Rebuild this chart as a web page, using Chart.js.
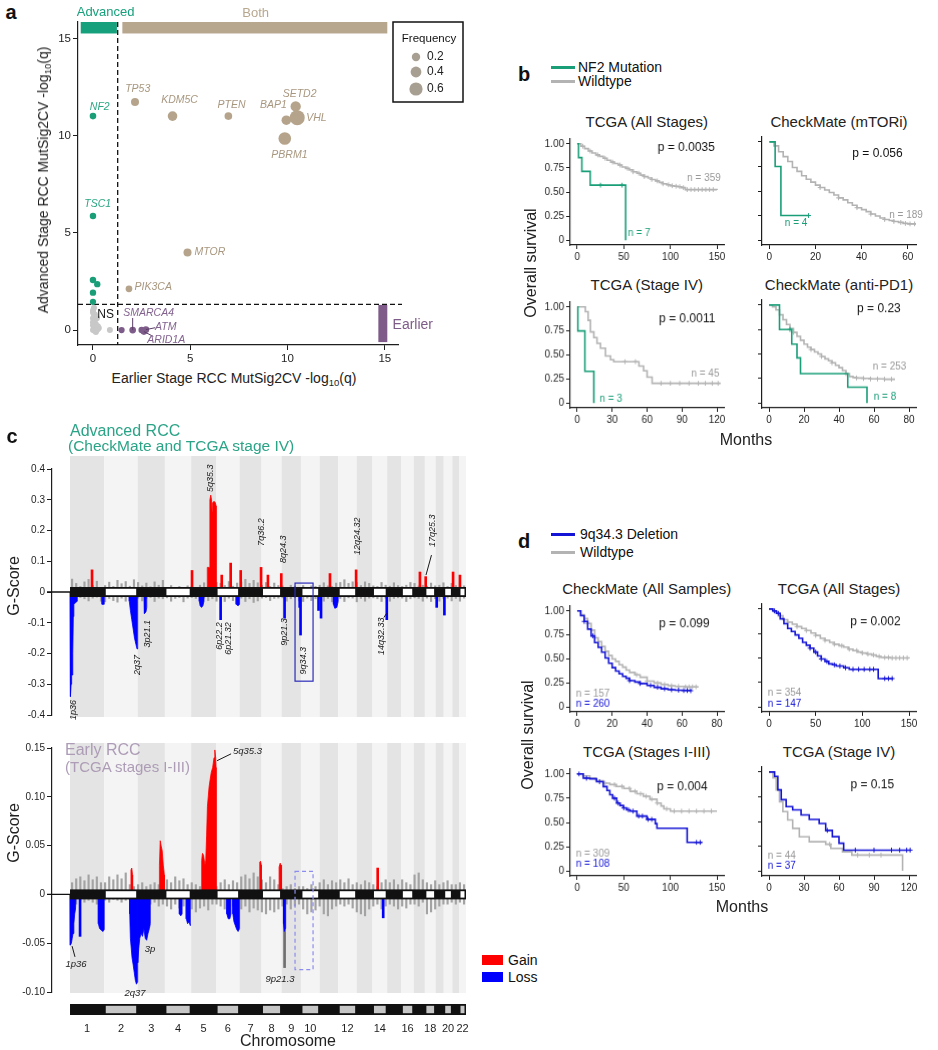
<!DOCTYPE html>
<html>
<head>
<meta charset="utf-8">
<title>RCC figure</title>
<script src="https://cdn.jsdelivr.net/npm/chart.js@4.4.1/dist/chart.umd.min.js"></script>
<style>
  html, body { margin: 0; padding: 0; background: #fff; }
  body { position: relative; width: 938px; height: 1050px; overflow: hidden;
         font-family: 'Liberation Sans', Arial, Helvetica, sans-serif; color: #222; }
  canvas { position: absolute; }
  .t { position: absolute; white-space: nowrap; line-height: 1; }
  .t sub { font-size: 0.68em; vertical-align: -0.35em; line-height: 0; }
  .key { position: absolute; }
</style>
</head>
<body>
<script>
/* ---------- colours ---------- */
const FONT = "'Liberation Sans', Arial, Helvetica, sans-serif";
const INK = '#1e1e1e';
const GREEN = '#1a9e78', TAN = '#b5a48b', PURPLE = '#7d5c89', NS_GRAY = '#c8c8c8';
const KM_GRAY = '#b3b3b3', KM_BLUE = '#1414d6';
const RED = '#ff0000', BLUE = '#0000ff', NOISE = '#a3a3a3';

/* ---------- panel a : MutSig2CV -log10(q) ---------- */
const advGenes  = ['NF2', 'TSC1', '', '', '', ''];
const advEarlyQ = [0, 0, 0, 0.22, 0, 0];
const advAdvQ   = [11.0, 5.86, 2.57, 2.36, 1.92, 1.45];
const advFreq   = [0.05, 0.04, 0.04, 0.03, 0.03, 0.02];

const bothGenes  = ['TP53', 'KDM5C', 'PTEN', 'BAP1', 'SETD2', 'VHL', 'PBRM1', 'MTOR', 'PIK3CA'];
const bothEarlyQ = [2.16, 4.09, 6.96, 9.94, 10.42, 10.5, 9.86, 4.86, 1.85];
const bothAdvQ   = [11.73, 11.0, 11.0, 10.79, 11.5, 10.92, 9.85, 3.99, 2.12];
const bothFreq   = [0.17, 0.3, 0.14, 0.3, 0.36, 0.75, 0.55, 0.17, 0.06];

const earlyGenes  = ['', 'SMARCA4', '', 'ATM', 'ARID1A'];
const earlyEarlyQ = [1.47, 2.04, 2.5, 2.72, 2.62];
const earlyAdvQ   = [0, 0, 0, 0.02, -0.08];
const earlyFreq   = [0.02, 0.06, 0.03, 0.05, 0.05];

const nsEarlyQ = [0, 0.05, 0.1, 0, 0.15, 0, 0.1, 0, 0.05, 0.2, 0.25, 0.15, 0.3, 0, 0.1, 0.2, 0.05, 0, 0.1, 0.25, 0.87];
const nsAdvQ   = [0, 0.1, 0.2, 0.4, 0.3, 0.6, 0.8, 1.0, 1.15, 0, 0.05, -0.1, 0.1, 0.25, 0.5, 0.6, 0.7, 0.9, -0.05, 0.2, 0];

const Q_CUT_EARLY = 1.27, Q_CUT_ADV = 1.32;
const freqLegend = [0.2, 0.4, 0.6];

/* ---------- panel c : GISTIC G-scores ---------- */
const chrLen = [249, 243, 198, 191, 181, 171, 159, 146, 141, 136, 135, 134, 115, 107, 103, 90, 81, 78, 59, 63, 48, 51];
const chrTickLabels = ['1', '2', '3', '4', '5', '6', '7', '8', '9', '10', '', '12', '', '14', '', '16', '', '18', '', '20', '', '22'];
const NOISE_STEP = 30; // Mb between background G-score samples

// [chr, Mb, G-score]  or  [chr, [[Mb, G-score], ...]]
const advGainSpikes = [[1, 160, 0.072], [5, 6, 0.07], [6, 41, 0.055], [6, 106, 0.094], [7, 8, 0.07], [7, 156, 0.08],
  [8, 47, 0.055], [8, 144, 0.06], [11, 75, 0.06], [12, 130, 0.072], [17, 45, 0.065], [18, 6, 0.05], [21, 5, 0.065], [22, 7, 0.055]];
const advGainBlocks = [
  [5, [[117, 0], [117, 0.08], [134, 0.08], [136, 0.3], [142, 0.315], [148, 0.3], [152, 0.26], [156, 0.29], [166, 0.295], [176, 0.29], [181, 0.28], [181, 0]]]
];
const advLossBlocks = [
  [1, [[0, 0], [1, -0.34], [5, -0.34], [8, -0.3], [12, -0.27], [16, -0.27], [20, -0.2], [24, -0.08], [28, -0.04], [40, -0.035], [52, -0.03], [53, 0]]],
  [1, [[233, 0], [233, -0.04], [249, -0.04], [249, 0]]],
  [2, [[182, 0], [182, -0.03], [190, -0.06], [200, -0.09], [210, -0.12], [220, -0.15], [230, -0.17], [238, -0.185], [243, -0.18], [243, 0]]],
  [3, [[46, 0], [46, -0.06], [52, -0.07], [60, -0.065], [66, -0.05], [66, 0]]],
  [5, [[59, 0], [59, -0.03], [65, -0.045], [75, -0.05], [85, -0.045], [93, -0.03], [93, 0]]],
  [6, [[146, 0], [146, -0.04], [160, -0.045], [171, -0.04], [171, 0]]],
  [11, [[100, 0], [100, -0.04], [110, -0.053], [125, -0.05], [135, -0.03], [135, 0]]]
];
const advLossSpikes = [[6, 33, -0.09], [9, 22, -0.085], [9, 132, -0.05], [9, 138, -0.14], [10, 128, -0.06],
  [11, 10, -0.085], [14, 104, -0.09], [19, 8, -0.05], [20, 5, -0.075]];
const advNoiseUp = [
  .042, .028, .018, .033, .041, .022, .035, .015, .021, .032, .018, .038, .027, .034, .019, .04,
  .031, .02, .029, .017, .033, .022, .038, .012, .021, .009, .018, .011, .02, .018, .01, .022,
  .03, .02, .02, .031, .028, .021, .034, .019, .029, .033, .041, .028, .038, .03, .022, .031,
  .018, .029, .021, .02, .012, .022, .019, .011, .021, .012, .02, .018, .022, .03, .02, .018,
  .029, .031, .04, .028, .033, .031, .021, .033, .028, .02, .018, .031, .022, .019, .03, .021,
  .018, .022, .031, .028, .02, .022, .019, .029, .02, .022, .03, .018, .028, .021, .03, .02
];
const advNoiseDn = [
  -.02, -.031, -.018, -.022, -.029, -.02, -.017, -.03, -.032, -.021, -.028, -.033, -.02, -.03, -.018, -.022,
  -.02, -.029, -.021, -.018, -.031, -.02, -.022, -.019, -.03, -.021, -.018, -.032, -.02, -.018, -.021, -.031,
  -.02, -.028, -.022, -.03, -.019, -.031, -.02, -.028, -.022, -.02, -.031, -.022, -.034, -.029, -.02, -.018,
  -.028, -.021, -.02, -.019, -.03, -.022, -.018, -.029, -.031, -.02, -.028, -.022, -.02, -.03, -.021, -.032,
  -.02, -.021, -.031, -.019, -.02, -.032, -.021, -.03, -.02, -.019, -.022, -.031, -.02, -.03, -.021, -.019,
  -.02, -.031, -.022, -.019, -.021, -.03, -.02, -.031, -.022, -.03, -.021, -.02, -.029, -.021, -.03, -.02
];

const earlyGainSpikes = [[14, 38, 0.027]];
const earlyGainBlocks = [
  [2, [[194, 0], [194, 0.025], [200, 0.027], [206, 0.02], [206, 0]]],
  [3, [[158, 0], [158, 0.03], [164, 0.055], [170, 0.05], [178, 0.045], [186, 0.03], [194, 0.02], [194, 0]]],
  [5, [[76, 0], [76, 0.035], [82, 0.042], [90, 0.04], [100, 0.03], [106, 0.035], [112, 0.06], [118, 0.09], [124, 0.1], [130, 0.11],
       [138, 0.118], [146, 0.125], [156, 0.13], [166, 0.14], [172, 0.148], [178, 0.14], [181, 0.13], [181, 0]]],
  [7, [[146, 0], [146, 0.033], [152, 0.034], [158, 0.03], [158, 0]]],
  [8, [[128, 0], [128, 0.028], [136, 0.032], [142, 0.03], [146, 0.02], [146, 0]]]
];
const earlyLossBlocks = [
  [1, [[0, 0], [0, -0.05], [4, -0.052], [10, -0.05], [16, -0.045], [22, -0.04], [28, -0.03], [34, -0.02], [40, -0.015], [44, 0]]],
  [1, [[206, 0], [206, -0.03], [215, -0.035], [230, -0.037], [240, -0.038], [249, -0.036], [249, 0]]],
  [2, [[185, 0], [185, -0.02], [190, -0.045], [196, -0.055], [202, -0.065], [210, -0.072], [218, -0.08], [226, -0.088], [234, -0.092], [240, -0.09], [243, -0.08], [243, 0]]],
  [3, [[0, 0], [0, -0.07], [8, -0.055], [15, -0.045], [25, -0.04], [35, -0.043], [45, -0.035], [55, -0.045], [65, -0.047], [75, -0.04], [85, -0.035], [92, -0.03], [92, 0]]],
  [4, [[105, 0], [105, -0.02], [115, -0.022], [125, -0.02], [125, 0]]],
  [4, [[155, 0], [155, -0.025], [165, -0.03], [175, -0.028], [185, -0.032], [185, 0]]],
  [6, [[78, 0], [78, -0.02], [88, -0.025], [100, -0.025], [108, -0.02], [108, 0]]],
  [6, [[122, 0], [122, -0.02], [130, -0.028], [140, -0.032], [150, -0.036], [160, -0.038], [171, -0.035], [171, 0]]],
  [9, [[14, 0], [14, -0.03], [20, -0.038], [26, -0.035], [30, 0]]]
];
const earlyLossSpikes = [[1, 73, -0.043], [14, 78, -0.024]];
const earlyGraySpikes = [[9, 22, -0.075]];
const earlyNoiseUp = [
  .012, .016, .018, .014, .02, .015, .018, .012, .012, .018, .015, .02, .016, .022, .01, .008,
  .01, .012, .008, .01, .012, .01, .015, .015, .012, .018, .014, .016, .01, .012, .01, .008,
  .01, .012, .008, .008, .012, .015, .01, .014, .012, .018, .02, .016, .022, .018, .015, .012,
  .018, .015, .01, .006, .008, .01, .006, .008, .008, .006, .01, .008, .012, .015, .01, .014,
  .012, .015, .012, .016, .01, .012, .01, .014, .012, .01, .008, .012, .015, .012, .015, .01,
  .015, .012, .01, .02, .022, .015, .012, .01, .014, .01, .012, .014, .01, .01, .012, .01
];
const earlyNoiseDn = [
  -.008, -.01, -.006, -.008, -.006, -.008, -.01, -.008, -.006, -.008, -.005, -.006, -.008, -.006, -.005, -.008,
  -.01, -.008, -.012, -.01, -.008, -.012, -.01, -.012, -.015, -.01, -.014, -.012, -.015, -.015, -.018, -.014,
  -.012, -.016, -.01, -.01, -.012, -.015, -.01, -.012, -.015, -.015, -.012, -.018, -.014, -.016, -.018, -.02,
  -.016, -.018, -.015, -.012, -.01, -.015, -.012, -.01, -.015, -.02, -.018, -.016, -.012, -.02, -.022, -.015,
  -.012, -.01, -.012, -.01, -.014, -.018, -.02, -.022, -.015, -.012, -.01, -.015, -.012, -.01, -.012, -.015,
  -.012, -.014, -.01, -.01, -.012, -.008, -.02, -.018, -.015, -.012, -.01, -.01, -.008, -.01, -.008, -.01
];

/* ---------- panels b and d : Kaplan-Meier (months, survival) ---------- */
const b1MutT = [0, 1.5, 5, 14, 52];
const b1MutS = [1, 0.857, 0.714, 0.571, 0];
const b1MutC = [25, 48];
const b1WtT = [0, 4, 8, 12, 16, 20, 24, 28, 32, 36, 40, 44, 48, 52, 56, 60, 64, 68, 72, 76, 80, 84, 88, 92, 96, 100, 104, 108, 112, 116, 150];
const b1WtS = [1, 0.975, 0.95, 0.925, 0.905, 0.885, 0.87, 0.85, 0.83, 0.81, 0.795, 0.78, 0.76, 0.745, 0.73, 0.71, 0.695, 0.675, 0.66, 0.645,
  0.63, 0.615, 0.6, 0.585, 0.575, 0.565, 0.56, 0.555, 0.545, 0.525, 0.52];
const b1WtC = [6, 14, 22, 30, 38, 46, 54, 60, 66, 72, 80, 86, 92, 98, 102, 106, 110, 114, 118, 122, 126, 130, 134, 138, 142, 146];

const b2MutT = [0, 2.5, 5, 17];
const b2MutS = [1, 0.75, 0.25, 0.25];
const b2MutC = [17];
const b2WtT = [0, 2, 4, 6, 8, 10, 12, 14, 16, 18, 20, 22, 24, 26, 28, 30, 32, 34, 36, 38, 40, 42, 44, 46, 48, 50, 52, 54, 56, 58, 60, 64];
const b2WtS = [1, 0.96, 0.9, 0.85, 0.8, 0.74, 0.7, 0.655, 0.62, 0.59, 0.56, 0.535, 0.51, 0.485, 0.46, 0.43, 0.41, 0.38, 0.355, 0.33,
  0.31, 0.29, 0.265, 0.245, 0.225, 0.21, 0.2, 0.19, 0.18, 0.17, 0.165, 0.16];
const b2WtC = [22, 30, 38, 44, 50, 54, 57, 59, 61, 63];

const b3MutT = [0, 0.6, 6.6, 14.3];
const b3MutS = [1, 0.75, 0.33, 0];
const b3MutC = [];
const b3WtT = [0, 7, 9.4, 11.4, 14.3, 17, 20, 24.3, 28.6, 31.4, 53, 57, 60, 64.3, 123];
const b3WtS = [1, 0.95, 0.86, 0.74, 0.68, 0.62, 0.57, 0.49, 0.45, 0.43, 0.385, 0.335, 0.27, 0.205, 0.205];
const b3WtC = [41, 50, 72, 80, 88, 96, 104, 110, 116, 121];

const b4MutT = [0, 6, 13, 16, 18, 45, 56];
const b4MutS = [1, 0.75, 0.6, 0.46, 0.3, 0.16, 0];
const b4MutC = [12];
const b4WtT = [0, 2, 4, 6, 8, 10, 12, 14, 16, 18, 20, 22, 24, 26, 28, 30, 32, 34, 36, 38, 40, 42, 44, 46, 48, 50, 54, 58, 62, 66, 72];
const b4WtS = [1, 0.98, 0.95, 0.9, 0.85, 0.8, 0.76, 0.72, 0.68, 0.64, 0.6, 0.57, 0.545, 0.52, 0.5, 0.475, 0.45, 0.43, 0.41, 0.385,
  0.36, 0.33, 0.3, 0.27, 0.26, 0.255, 0.25, 0.245, 0.245, 0.242, 0.242];
const b4WtC = [14, 24, 30, 36, 44, 50, 54, 58, 62, 66, 70];

const d1DelT = [0, 2, 4, 6, 8, 10, 12, 14, 16, 18, 20, 22, 24, 26, 28, 30, 33, 36, 40, 44, 48, 52, 56, 60, 65];
const d1DelS = [1, 0.95, 0.89, 0.81, 0.74, 0.67, 0.62, 0.57, 0.51, 0.455, 0.41, 0.375, 0.345, 0.32, 0.3, 0.275, 0.26, 0.245, 0.225, 0.205,
  0.19, 0.18, 0.175, 0.172, 0.17];
const d1DelC = [4, 9, 30, 36, 42, 46, 50, 54, 58, 61, 63, 65];
const d1WtT = [0, 2, 4, 6, 8, 10, 12, 14, 16, 18, 20, 22, 24, 26, 28, 30, 33, 36, 40, 44, 48, 52, 56, 62, 69];
const d1WtS = [1, 0.96, 0.92, 0.87, 0.8, 0.72, 0.68, 0.63, 0.58, 0.535, 0.5, 0.475, 0.44, 0.415, 0.385, 0.36, 0.335, 0.31, 0.27, 0.25,
  0.235, 0.222, 0.215, 0.21, 0.205];
const d1WtC = [6, 34, 40, 46, 50, 54, 58, 62, 64, 66, 68];

const d2DelT = [0, 4, 8, 12, 16, 20, 24, 28, 32, 36, 40, 44, 48, 52, 56, 60, 64, 68, 72, 80, 86, 117, 133];
const d2DelS = [1, 0.98, 0.955, 0.9, 0.85, 0.8, 0.77, 0.735, 0.7, 0.66, 0.63, 0.6, 0.56, 0.52, 0.49, 0.465, 0.44, 0.43, 0.418, 0.4, 0.384, 0.29, 0.29];
const d2DelC = [6, 10, 44, 50, 56, 62, 70, 76, 82, 90, 96, 102, 108, 112, 124, 128, 132];
const d2WtT = [0, 5, 10, 15, 20, 25, 30, 35, 40, 45, 50, 55, 60, 65, 70, 75, 80, 85, 90, 95, 100, 105, 110, 115, 120, 130, 150];
const d2WtS = [1, 0.97, 0.93, 0.89, 0.865, 0.845, 0.82, 0.8, 0.78, 0.755, 0.73, 0.7, 0.68, 0.66, 0.64, 0.625, 0.61, 0.59, 0.575, 0.56,
  0.55, 0.54, 0.53, 0.515, 0.505, 0.5, 0.497];
const d2WtC = [20, 30, 40, 50, 60, 70, 78, 86, 94, 100, 106, 112, 118, 124, 128, 132, 136, 140, 144, 148];

const d3DelT = [0, 6.5, 13.6, 20.8, 28, 32, 35, 38, 42.4, 46, 49.6, 53, 56.8, 64, 74.8, 83.8, 85.6, 118, 134];
const d3DelS = [1, 0.956, 0.95, 0.92, 0.87, 0.83, 0.786, 0.75, 0.7, 0.675, 0.65, 0.63, 0.617, 0.566, 0.532, 0.488, 0.44, 0.295, 0.295];
const d3DelC = [2, 10, 24, 40, 44, 50, 55, 60, 66, 70, 76, 80, 128, 132];
const d3WtT = [0, 6, 13.6, 20, 28, 35, 42, 50, 57, 64, 71, 78, 85.6, 90, 93, 100, 150];
const d3WtS = [1, 0.98, 0.956, 0.93, 0.905, 0.89, 0.871, 0.85, 0.82, 0.795, 0.77, 0.74, 0.7, 0.67, 0.64, 0.617, 0.617];
const d3WtC = [30, 40, 48, 56, 62, 68, 74, 80, 86, 96, 104, 112, 120, 128, 136, 144];

const d4DelT = [0, 4.8, 7.6, 10.5, 14.7, 20.3, 27.5, 34.5, 43, 48.6, 54.3, 60, 64, 121];
const d4DelS = [1, 0.956, 0.82, 0.72, 0.65, 0.617, 0.566, 0.52, 0.48, 0.41, 0.346, 0.28, 0.21, 0.21];
const d4DelC = [50, 74, 90, 105, 112, 118, 121];
const d4WtT = [0, 3.4, 6.2, 9, 11.9, 16, 20.3, 26, 34.5, 48.6, 53, 63, 71, 114.5];
const d4WtS = [1, 0.94, 0.82, 0.7, 0.6, 0.515, 0.43, 0.345, 0.295, 0.27, 0.227, 0.193, 0.16, 0];
const d4WtC = [52, 76, 86, 96];

/* ====================================================================== */

Chart.defaults.font.family = FONT;
Chart.defaults.color = INK;
Chart.defaults.animation = false;
Chart.defaults.responsive = false;
Chart.defaults.plugins.legend.display = false;
Chart.defaults.plugins.tooltip.enabled = false;

const chrStart = [];
chrLen.forEach((l, i) => chrStart.push(i ? chrStart[i - 1] + chrLen[i - 1] : 0));
const GENOME = chrStart[21] + chrLen[21];
const gpos = (c, mb) => chrStart[c - 1] + mb;

function addCanvas(left, top, w, h) {
  const c = document.createElement('canvas');
  c.width = w; c.height = h;
  c.style.left = left + 'px'; c.style.top = top + 'px';
  c.style.width = w + 'px'; c.style.height = h + 'px';
  document.body.appendChild(c);
  return c;
}

// anchor: c = centre, l = left-middle, r = rotated about centre
function addText(x, y, html, css, anchor) {
  const d = document.createElement('div');
  d.className = 't';
  d.innerHTML = html;
  d.style.cssText = css || '';
  d.style.left = x + 'px';
  d.style.top = y + 'px';
  d.style.transform = anchor === 'l' ? 'translate(0,-50%)'
    : anchor === 'r' ? 'translate(-50%,-50%) rotate(-90deg)' : 'translate(-50%,-50%)';
  document.body.appendChild(d);
}

function addKey(x, y, w, h, color) {
  const d = document.createElement('div');
  d.className = 'key';
  d.style.cssText = `left:${x}px;top:${y}px;width:${w}px;height:${h}px;background:${color}`;
  document.body.appendChild(d);
}

function axisCfg(o) {
  return {
    type: 'linear', min: o.min, max: o.max, offset: false,
    afterBuildTicks: s => { s.ticks = o.ticks.map(v => ({ value: v })); },
    afterFit: s => { if (o.isX) s.height = o.size; else s.width = o.size; },
    grid: { display: true, drawOnChartArea: false, drawTicks: true, tickLength: o.tickLen || 4, color: INK, lineWidth: 1 },
    border: { display: true, color: INK, width: 1.2 },
    ticks: {
      display: o.labels !== false, autoSkip: false, maxRotation: 0, padding: 2,
      font: { family: FONT, size: o.fontSize || 10 }, color: INK,
      callback: o.fmt || (v => String(v))
    }
  };
}

/* ---------------- panel a ---------------- */
const freqRadius = f => 3 + 6 * f;
const geneLabelPos = {
  NF2: [0.35, 11.47, 'center'], TSC1: [0.24, 6.47, 'center'],
  TP53: [2.30, 12.38, 'center'], KDM5C: [4.45, 11.81, 'center'], PTEN: [7.12, 11.56, 'center'],
  BAP1: [9.28, 11.56, 'center'], SETD2: [10.62, 12.12, 'center'], VHL: [10.96, 10.89, 'left'],
  PBRM1: [10.1, 8.99, 'center'], MTOR: [5.22, 4.0, 'left'], PIK3CA: [2.14, 2.21, 'left'],
  SMARCA4: [2.86, 0.88, 'center'], ATM: [3.74, 0.17, 'center'], ARID1A: [3.77, -0.51, 'center']
};
const leaderTo = { SMARCA4: [2.04, 0.62], ATM: [3.2, 0.12], ARID1A: [3.1, -0.33] };
const mutsigBands = [
  { name: 'Advanced', x0: -0.63, x1: 1.23, y0: 15.25, y1: 15.84, color: '#17a07c', lx: 0.65, ly: 16.35, align: 'center' },
  { name: 'Both', x0: 1.51, x1: 15.13, y0: 15.25, y1: 15.84, color: '#b8a78f', lx: 8.36, ly: 16.3, align: 'center' },
  { name: 'Earlier', x0: 14.67, x1: 15.13, y0: -0.62, y1: 1.29, color: '#7e5b88', lx: 15.4, ly: 0.26, align: 'left' }
];

function geneSet(genes, xs, ys, fs, color, labelColor) {
  return {
    data: xs.map((x, i) => ({ x, y: ys[i], f: fs[i], g: genes[i] })),
    backgroundColor: color, borderWidth: 0,
    pointRadius: c => freqRadius(c.raw.f), labelColor
  };
}

const panelAPlugin = {
  id: 'panelA',
  beforeDatasetsDraw(chart) {
    const { ctx, chartArea: ar, scales: { x, y } } = chart;
    ctx.save();
    mutsigBands.forEach(b => {
      const x0 = x.getPixelForValue(b.x0), x1 = x.getPixelForValue(b.x1);
      const y0 = y.getPixelForValue(b.y1), y1 = y.getPixelForValue(b.y0);
      ctx.fillStyle = b.color;
      ctx.fillRect(x0, y0, x1 - x0, y1 - y0);
    });
    ctx.setLineDash([5, 3]);
    ctx.strokeStyle = '#111';
    ctx.lineWidth = 1.3;
    const vx = x.getPixelForValue(Q_CUT_EARLY), hy = y.getPixelForValue(Q_CUT_ADV);
    ctx.beginPath();
    ctx.moveTo(vx, ar.top); ctx.lineTo(vx, ar.bottom);
    ctx.moveTo(ar.left, hy); ctx.lineTo(ar.right + 4, hy);
    ctx.stroke();
    ctx.restore();
  },
  afterDatasetsDraw(chart) {
    const { ctx, chartArea: ar, scales: { x, y } } = chart;
    ctx.save();
    // leaders for the crowded purple genes
    ctx.strokeStyle = '#5a3d66';
    ctx.lineWidth = 1;
    chart.data.datasets.forEach(ds => ds.data.forEach(p => {
      const to = leaderTo[p.g];
      if (!to) return;
      ctx.beginPath();
      ctx.moveTo(x.getPixelForValue(p.x), y.getPixelForValue(p.y));
      ctx.lineTo(x.getPixelForValue(to[0]), y.getPixelForValue(to[1]));
      ctx.stroke();
    }));
    ctx.font = `italic 10.5px ${FONT}`;
    ctx.textBaseline = 'middle';
    chart.data.datasets.forEach(ds => ds.data.forEach(p => {
      const pos = geneLabelPos[p.g];
      if (!pos) return;
      ctx.fillStyle = ds.labelColor;
      ctx.textAlign = pos[2];
      ctx.fillText(p.g, x.getPixelForValue(pos[0]), y.getPixelForValue(pos[1]));
    }));
    ctx.font = `12px ${FONT}`;
    ctx.fillStyle = '#111';
    ctx.textAlign = 'center';
    ctx.fillText('NS', x.getPixelForValue(0.65), y.getPixelForValue(0.77));
    mutsigBands.forEach(b => {
      ctx.font = `${b.name === 'Earlier' ? 14 : 13}px ${FONT}`;
      ctx.fillStyle = b.color;
      ctx.textAlign = b.align;
      ctx.fillText(b.name, x.getPixelForValue(b.lx), y.getPixelForValue(b.ly));
    });
    // frequency key
    const lx = ar.right - 5, ly = ar.top;
    ctx.fillStyle = '#fff';
    ctx.fillRect(lx, ly, 70, 80);
    ctx.strokeStyle = '#111';
    ctx.lineWidth = 1.5;
    ctx.strokeRect(lx, ly, 70, 80);
    ctx.fillStyle = '#111';
    ctx.font = `11.5px ${FONT}`;
    ctx.textAlign = 'center';
    ctx.fillText('Frequency', lx + 36, ly + 17);
    ctx.textAlign = 'left';
    ctx.font = `12px ${FONT}`;
    [35, 50, 67].forEach((dy, i) => {
      ctx.fillStyle = '#a7a092';
      ctx.beginPath();
      ctx.arc(lx + 23, ly + dy, freqRadius(freqLegend[i]), 0, Math.PI * 2);
      ctx.fill();
      ctx.fillStyle = '#222';
      ctx.fillText(String(freqLegend[i]), lx + 34, ly + dy);
    });
    ctx.restore();
  }
};

new Chart(addCanvas(48, 0, 422, 370), {
  type: 'scatter',
  data: {
    datasets: [
      geneSet(advGenes, advEarlyQ, advAdvQ, advFreq, GREEN, '#2aa683'),
      geneSet(bothGenes, bothEarlyQ, bothAdvQ, bothFreq, TAN, '#a8977f'),
      geneSet(earlyGenes, earlyEarlyQ, earlyAdvQ, earlyFreq, PURPLE, '#82628e'),
      { data: nsEarlyQ.map((x, i) => ({ x, y: nsAdvQ[i] })), backgroundColor: NS_GRAY, borderWidth: 0, pointRadius: 3 }
    ]
  },
  options: {
    layout: { padding: { top: 22, right: 72, left: 0, bottom: 0 } },
    scales: {
      x: axisCfg({ min: -0.77, max: 15.68, ticks: [0, 5, 10, 15], isX: true, size: 25, fontSize: 11.5, tickLen: 5 }),
      y: axisCfg({ min: -0.77, max: 15.84, ticks: [0, 5, 10, 15], size: 30, fontSize: 11.5, tickLen: 5 })
    }
  },
  plugins: [panelAPlugin]
});

/* ---------------- panels b and d ---------------- */
function survAt(t, s, when) {
  let v = s[0];
  t.forEach((ti, i) => { if (ti <= when) v = s[i]; });
  return v;
}

function kmChart(p) {
  const wy = p.yLabels ? 42 : 8, hx = 24, padT = 6, padR = 16;
  const a = p.area;
  const cv = addCanvas(a[0] - wy, a[1] - padT, a[2] - a[0] + wy + padR, a[3] - a[1] + padT + hx);
  const datasets = [];
  p.curves.forEach(c => {
    datasets.push({
      data: c.t.map((t, i) => ({ x: t, y: c.s[i] })),
      borderColor: c.color, borderWidth: 1.6, stepped: true, pointRadius: 0, fill: false
    });
    datasets.push({
      data: c.c.map(t => ({ x: t, y: survAt(c.t, c.s, t) })),
      showLine: false, pointStyle: 'cross', pointRadius: 2.4, borderColor: c.color, borderWidth: 1
    });
  });
  new Chart(cv, {
    type: 'line',
    data: { datasets },
    options: {
      layout: { padding: { top: padT, right: padR, left: 0, bottom: 0 } },
      elements: { line: { tension: 0 } },
      scales: {
        x: axisCfg({ min: p.x[0], max: p.x[1], ticks: p.xTicks, isX: true, size: hx }),
        y: axisCfg({ min: -0.05, max: 1.05, ticks: [0, 0.25, 0.5, 0.75, 1], size: wy, labels: p.yLabels,
          fmt: v => (v === 0 ? '0' : v.toFixed(2)) })
      }
    },
    plugins: [{
      id: 'kmText',
      afterDatasetsDraw(chart) {
        const { ctx, scales: { x, y } } = chart;
        ctx.save();
        ctx.textBaseline = 'middle';
        p.texts.forEach(t => {
          ctx.font = `${t[4]}px ${FONT}`;
          ctx.fillStyle = t[3];
          ctx.textAlign = t[5] || 'center';
          ctx.fillText(t[0], x.getPixelForValue(t[1]), y.getPixelForValue(t[2]));
        });
        ctx.restore();
      }
    }]
  });
  addText((a[0] + a[2]) / 2 + (p.titleDx || 0), a[1] - 16, p.title, 'font-size:15px;color:#222');
}

const LEFT = [570, 723.5], RIGHT = [762, 916];
const ROW_B1 = [137, 245], ROW_B2 = [300, 407.6], ROW_D1 = [604.4, 711.6], ROW_D2 = [767.4, 875.6];

kmChart({
  title: 'TCGA (All Stages)', area: [LEFT[0], ROW_B1[0], LEFT[1], ROW_B1[1]], yLabels: true,
  x: [-7.5, 157.5], xTicks: [0, 50, 100, 150],
  curves: [{ t: b1MutT, s: b1MutS, c: b1MutC, color: GREEN }, { t: b1WtT, s: b1WtS, c: b1WtC, color: KM_GRAY }],
  texts: [['p = 0.0035', 117, 0.956, '#111', 12], ['n = 359', 136, 0.638, '#999', 10], ['n = 7', 54.4, 0.07, GREEN, 10, 'left']]
});
kmChart({
  title: 'CheckMate (mTORi)', area: [RIGHT[0], ROW_B1[0], RIGHT[1], ROW_B1[1]], yLabels: false,
  x: [-3.2, 63.6], xTicks: [0, 20, 40, 60],
  curves: [{ t: b2MutT, s: b2MutS, c: b2MutC, color: GREEN }, { t: b2WtT, s: b2WtS, c: b2WtC, color: KM_GRAY }],
  texts: [['p = 0.056', 46.9, 0.885, '#111', 12], ['n = 189', 59.3, 0.254, '#999', 10], ['n = 4', 11.6, 0.176, GREEN, 10]]
});
kmChart({
  title: 'TCGA (Stage IV)', area: [LEFT[0], ROW_B2[0], LEFT[1], ROW_B2[1]], yLabels: true,
  x: [-6, 126], xTicks: [0, 30, 60, 90, 120],
  curves: [{ t: b3MutT, s: b3MutS, c: b3MutC, color: GREEN }, { t: b3WtT, s: b3WtS, c: b3WtC, color: KM_GRAY }],
  texts: [['p = 0.0011', 94.3, 0.877, '#111', 12], ['n = 45', 110, 0.30, '#999', 10], ['n = 3', 29, 0.045, GREEN, 10]]
});
kmChart({
  title: 'CheckMate (anti-PD1)', area: [RIGHT[0], ROW_B2[0], RIGHT[1], ROW_B2[1]], yLabels: false,
  x: [-4, 84], xTicks: [0, 20, 40, 60, 80],
  curves: [{ t: b4MutT, s: b4MutS, c: b4MutC, color: GREEN }, { t: b4WtT, s: b4WtS, c: b4WtC, color: KM_GRAY }],
  texts: [['p = 0.23', 62.8, 0.959, '#111', 12], ['n = 253', 68.9, 0.365, '#999', 10], ['n = 8', 66.3, 0.061, GREEN, 10]]
});
kmChart({
  title: 'CheckMate (All Samples)', area: [LEFT[0], ROW_D1[0], LEFT[1], ROW_D1[1]], yLabels: true,
  x: [-4, 84], xTicks: [0, 20, 40, 60, 80],
  curves: [{ t: d1DelT, s: d1DelS, c: d1DelC, color: KM_BLUE }, { t: d1WtT, s: d1WtS, c: d1WtC, color: KM_GRAY }],
  texts: [['p = 0.099', 61.3, 0.867, '#111', 12], ['n = 157', -0.7, 0.138, '#999', 10, 'left'], ['n = 260', -0.7, 0.028, KM_BLUE, 10, 'left']]
});
kmChart({
  title: 'TCGA (All Stages)', area: [RIGHT[0], ROW_D1[0], RIGHT[1], ROW_D1[1]], yLabels: false,
  x: [-7.5, 157.5], xTicks: [0, 50, 100, 150],
  curves: [{ t: d2DelT, s: d2DelS, c: d2DelC, color: KM_BLUE }, { t: d2WtT, s: d2WtS, c: d2WtC, color: KM_GRAY }],
  texts: [['p = 0.002', 114, 0.873, '#111', 12], ['n = 354', -1.4, 0.138, '#999', 10, 'left'], ['n = 147', -1.4, 0.028, KM_BLUE, 10, 'left']]
});
kmChart({
  title: 'TCGA (Stages I-III)', area: [LEFT[0], ROW_D2[0], LEFT[1], ROW_D2[1]], yLabels: true,
  x: [-7.5, 157.5], xTicks: [0, 50, 100, 150],
  curves: [{ t: d3DelT, s: d3DelS, c: d3DelC, color: KM_BLUE }, { t: d3WtT, s: d3WtS, c: d3WtC, color: KM_GRAY }],
  texts: [['p = 0.004', 112.7, 0.871, '#111', 12], ['n = 309', -1.4, 0.177, '#999', 10, 'left'], ['n = 108', -1.4, 0.068, KM_BLUE, 10, 'left']]
});
kmChart({
  title: 'TCGA (Stage IV)', area: [RIGHT[0], ROW_D2[0], RIGHT[1], ROW_D2[1]], yLabels: false,
  x: [-6, 126], xTicks: [0, 30, 60, 90, 120],
  curves: [{ t: d4DelT, s: d4DelS, c: d4DelC, color: KM_BLUE }, { t: d4WtT, s: d4WtS, c: d4WtC, color: KM_GRAY }],
  texts: [['p = 0.15', 88.5, 0.871, '#111', 12], ['n = 44', -1.1, 0.149, '#999', 10, 'left'], ['n = 37', -1.1, 0.048, KM_BLUE, 10, 'left']]
});

/* ---------------- panel c ---------------- */
// label: [text, genome Mb, G-score, 'up' | 'down' | 'flat', leader [x0, y0, x1, y1]?]
const advPeakLabels = [
  ['5q35.3', 1021, 0.325, 'up'], ['7q36.2', 1389, 0.15, 'up'], ['8q24.3', 1549, 0.094, 'up'],
  ['12q24.32', 2090, 0.12, 'up'], ['17q25.3', 2639, 0.146, 'up', [2588, 0.055, 2628, 0.12]],
  ['1p36', 22, -0.351, 'down'], ['2q37', 487, -0.205, 'down'], ['3p21.1', 560, -0.091, 'down'],
  ['6p22.2', 1087, -0.098, 'down'], ['6p21.32', 1149, -0.098, 'down'], ['9p21.3', 1563, -0.085, 'down'],
  ['9q34.3', 1694, -0.179, 'down'], ['14q32.33', 2268, -0.083, 'down', [2301, -0.07, 2282, -0.083]]
];
const earlyPeakLabels = [
  ['5q35.3', 1185, 0.1465, 'flatL', [1069, 0.137, 1171, 0.144]],
  ['1p36', 44, -0.0717, 'flat', [15, -0.053, 36, -0.064]],
  ['2q37', 473, -0.101, 'flat'], ['3p', 582, -0.056, 'flat'], ['9p21.3', 1527, -0.087, 'flat']
];

function gscoreChart(o) {
  const cv = addCanvas(0, o.top, 470, o.height);
  const ds = [];
  const blocks = (list, color) => list.forEach(([c, pts]) => ds.push({
    type: 'line', data: pts.map(([mb, v]) => ({ x: gpos(c, mb), y: v })),
    borderColor: color, backgroundColor: color, borderWidth: 0.8, pointRadius: 0, fill: 'origin', order: 1
  }));
  const spikes = (list, color) => ds.push({
    type: 'bar', data: list.map(([c, mb, v]) => ({ x: gpos(c, mb), y: v })),
    backgroundColor: color, barThickness: 2, grouped: false, order: 1
  });
  const noise = vals => ds.push({
    type: 'bar', data: vals.map((v, i) => ({ x: NOISE_STEP * (i + 0.5), y: v })),
    backgroundColor: NOISE, barThickness: 1.5, grouped: false, order: 3
  });
  blocks(o.gainBlocks, RED);
  blocks(o.lossBlocks, BLUE);
  spikes(o.gainSpikes, RED);
  spikes(o.lossSpikes, BLUE);
  if (o.graySpikes) spikes(o.graySpikes, '#6f6f6f');
  noise(o.noiseUp);
  noise(o.noiseDn);

  new Chart(cv, {
    type: 'bar',
    data: { datasets: ds },
    options: {
      layout: { padding: { top: o.padTop, right: 4, left: 0, bottom: o.padBottom } },
      scales: {
        x: { type: 'linear', min: -131, max: GENOME, offset: false, display: false },
        y: axisCfg({ min: o.yMin, max: o.yMax, ticks: o.yTicks, size: 52, tickLen: 5, fmt: o.fmt })
      }
    },
    plugins: [{
      id: 'genome',
      beforeDatasetsDraw(chart) {
        const { ctx, chartArea: ar, scales: { x } } = chart;
        ctx.save();
        chrLen.forEach((l, i) => {
          const x0 = x.getPixelForValue(chrStart[i]), x1 = x.getPixelForValue(chrStart[i] + l);
          ctx.fillStyle = i % 2 ? '#f4f4f4' : '#e4e4e4';
          ctx.fillRect(x0, ar.top - o.bandUp, x1 - x0, ar.bottom - ar.top + o.bandUp + o.bandDown);
        });
        ctx.restore();
      },
      afterDatasetsDraw(chart) {
        const { ctx, chartArea: ar, scales: { x, y } } = chart;
        const y0 = y.getPixelForValue(0);
        const gx0 = x.getPixelForValue(0), gx1 = x.getPixelForValue(GENOME);
        ctx.save();
        ctx.strokeStyle = '#111';
        ctx.lineWidth = 1.3;
        ctx.beginPath(); ctx.moveTo(ar.left - 5, y0); ctx.lineTo(gx1, y0); ctx.stroke();
        const ideogram = (top, h, fill) => {
          ctx.fillStyle = '#111';
          ctx.fillRect(gx0, top, gx1 - gx0, h);
          chrLen.forEach((l, i) => {
            if (i % 2 === 0) return;
            const a = x.getPixelForValue(chrStart[i]), b = x.getPixelForValue(chrStart[i] + l);
            ctx.fillStyle = fill;
            ctx.fillRect(a + 1.5, top + 1.8, b - a - 3, h - 3.6);
          });
        };
        ideogram(y0 - 5, 10, '#fff');
        // highlighted 9q34.3 region
        ctx.strokeStyle = o.box.color;
        ctx.lineWidth = 1.2;
        ctx.setLineDash(o.box.dash);
        const bx0 = x.getPixelForValue(o.box.x0), bx1 = x.getPixelForValue(o.box.x1);
        const by0 = y.getPixelForValue(o.box.y0), by1 = y.getPixelForValue(o.box.y1);
        ctx.strokeRect(bx0, by0, bx1 - bx0, by1 - by0);
        ctx.setLineDash([]);
        // peak labels
        ctx.fillStyle = '#1a1a1a';
        ctx.strokeStyle = '#1a1a1a';
        ctx.lineWidth = 1;
        ctx.textBaseline = 'middle';
        o.labels.forEach(([s, gx, gy, mode, lead]) => {
          const px = x.getPixelForValue(gx), py = y.getPixelForValue(gy);
          if (lead) {
            ctx.beginPath();
            ctx.moveTo(x.getPixelForValue(lead[0]), y.getPixelForValue(lead[1]));
            ctx.lineTo(x.getPixelForValue(lead[2]), y.getPixelForValue(lead[3]));
            ctx.stroke();
          }
          if (mode === 'up' || mode === 'down') {
            ctx.font = `italic 9px ${FONT}`;
            ctx.save();
            ctx.translate(px, py);
            ctx.rotate(-Math.PI / 2);
            ctx.textAlign = mode === 'up' ? 'left' : 'right';
            ctx.fillText(s, 0, 0);
            ctx.restore();
          } else {
            ctx.font = `italic 9.5px ${FONT}`;
            ctx.textAlign = mode === 'flatL' ? 'left' : 'center';
            ctx.fillText(s, px, py);
          }
        });
        if (o.bottomIdeogram) {
          ideogram(ar.bottom + 12, 11, '#c6c6c6');
          ctx.fillStyle = INK;
          ctx.font = `11px ${FONT}`;
          ctx.textAlign = 'center';
          chrTickLabels.forEach((s, i) => {
            if (s) ctx.fillText(s, x.getPixelForValue(chrStart[i] + chrLen[i] / 2), ar.bottom + 37);
          });
        }
        ctx.restore();
      }
    }]
  });
}

gscoreChart({
  top: 440, height: 285, padTop: 29, padBottom: 10, bandUp: 13, bandDown: 2,
  yMin: -0.4, yMax: 0.4, yTicks: [-0.4, -0.3, -0.2, -0.1, 0, 0.1, 0.2, 0.3, 0.4],
  fmt: v => (v === 0 ? '0' : v.toFixed(1)),
  gainBlocks: advGainBlocks, lossBlocks: advLossBlocks, gainSpikes: advGainSpikes, lossSpikes: advLossSpikes,
  noiseUp: advNoiseUp, noiseDn: advNoiseDn, labels: advPeakLabels,
  box: { x0: 1636, x1: 1767, y0: 0.029, y1: -0.29, color: '#2b2bb8', dash: [] }
});
gscoreChart({
  top: 725, height: 325, padTop: 23, padBottom: 58, bandUp: 5, bandDown: 1, bottomIdeogram: true,
  yMin: -0.1, yMax: 0.15, yTicks: [-0.1, -0.05, 0, 0.05, 0.1, 0.15],
  fmt: v => (v === 0 ? '0' : v.toFixed(2)),
  gainBlocks: earlyGainBlocks, lossBlocks: earlyLossBlocks, gainSpikes: earlyGainSpikes, lossSpikes: earlyLossSpikes,
  graySpikes: earlyGraySpikes, noiseUp: earlyNoiseUp, noiseDn: earlyNoiseDn, labels: earlyPeakLabels,
  box: { x0: 1636, x1: 1767, y0: 0.0236, y1: -0.077, color: '#8c8cf0', dash: [4, 3] }
});

/* ---------------- static text ---------------- */
const PANEL = 'font-size:20px;font-weight:bold;color:#111';
addText(11, 12, 'a', PANEL);
addText(524, 74, 'b', PANEL);
addText(12, 436, 'c', PANEL);
addText(524, 541, 'd', PANEL);

addText(43, 180, 'Advanced Stage RCC MutSig2CV -log<sub>10</sub>(q)', 'font-size:14px', 'r');
addText(234, 378, 'Earlier Stage RCC MutSig2CV -log<sub>10</sub>(q)', 'font-size:14px');

addKey(551, 65.5, 24, 3, GREEN);
addKey(551, 79.5, 24, 3, KM_GRAY);
addText(578, 67, 'NF2 Mutation', 'font-size:14px;color:#111', 'l');
addText(578, 81, 'Wildtype', 'font-size:14px;color:#111', 'l');
addText(531, 263, 'Overall survival', 'font-size:16px;color:#222', 'r');
addText(746, 440, 'Months', 'font-size:16px;color:#222');

addKey(551, 532.5, 24, 3, KM_BLUE);
addKey(551, 550.5, 24, 3, KM_GRAY);
addText(580, 534, '9q34.3 Deletion', 'font-size:14px;color:#111', 'l');
addText(580, 552, 'Wildtype', 'font-size:14px;color:#111', 'l');
addText(528, 735, 'Overall survival', 'font-size:16px;color:#222', 'r');
addText(742, 907, 'Months', 'font-size:16px;color:#222');

addText(70, 431, 'Advanced RCC', 'font-size:16px;color:#2aa386', 'l');
addText(68, 446, '(CheckMate and TCGA stage IV)', 'font-size:15.5px;color:#2aa386', 'l');
addText(65, 750, 'Early RCC', 'font-size:16px;color:#ad9cb6', 'l');
addText(65, 766, '(TCGA stages I-III)', 'font-size:15px;color:#ad9cb6', 'l');
addText(14, 586, 'G-Score', 'font-size:16px;color:#222', 'r');
addText(14, 833, 'G-Score', 'font-size:16px;color:#222', 'r');
addText(288, 1041, 'Chromosome', 'font-size:16px;color:#222');

addKey(482, 955, 21, 10, RED);
addKey(482, 972, 21, 10, BLUE);
addText(508, 960, 'Gain', 'font-size:14px;color:#111', 'l');
addText(508, 977, 'Loss', 'font-size:14px;color:#111', 'l');
</script>
</body>
</html>
